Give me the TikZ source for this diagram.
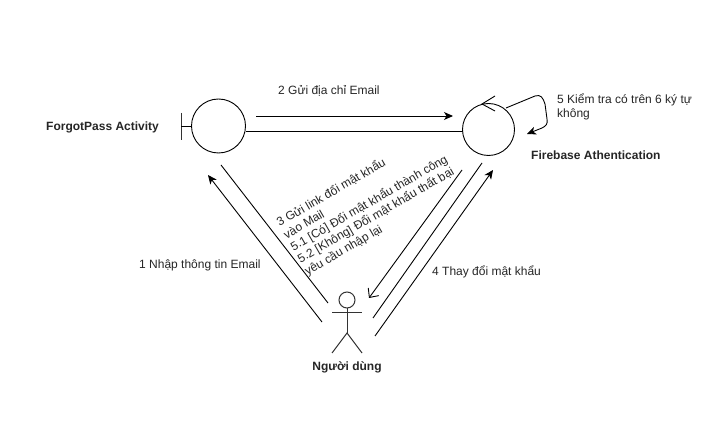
\documentclass[tikz,border=0pt]{standalone}
\usepackage{fontspec}
\setmainfont{Liberation Sans}
\usetikzlibrary{arrows.meta}
\tikzset{
  lbl/.style={font=\fontsize{12}{14}\selectfont,text=black!85,inner sep=0pt,align=left},
  blbl/.style={font=\fontsize{12}{14}\selectfont\bfseries,text=black!85,inner sep=0pt},
  obj/.style={circle,draw,line width=0.9pt,minimum size=54pt,inner sep=0pt},
  conn/.style={line width=0.9pt},
  arr/.style={conn,-{Stealth[length=9pt,width=8pt,inset=2.5pt]}},
  openarr/.style={conn,-{Straight Barb[length=7pt,width=13pt]}},
  fig/.style={line width=1pt,draw=black!80}
}
\begin{document}
\begin{tikzpicture}[x=1pt,y=-1pt]
\useasboundingbox (0,0) rectangle (723,430);
\fill[white] (0,0) rectangle (723,430);
% objects
\node[obj] (fp) at (218.5,126) {};
\node[obj,minimum size=52pt] (fb) at (488.5,129.5) {};
\coordinate (barTop) at (181,113);
\coordinate (barBot) at (181,140);
\coordinate (barMid) at (181,126);
\draw[fig] (barTop) -- (barBot);
\draw[conn] (barMid) -- (fp.west);
% control chevron
\coordinate (cTop) at (495,96);
\coordinate (cTip) at (482,104);
\coordinate (cBot) at (495,111);
\draw[conn] (cTop) -- (cTip) -- (cBot);
% actor
\node[circle,draw=black!80,line width=1pt,minimum size=16pt,inner sep=0pt] (head) at (347,300) {};
\coordinate (armL) at (332,313);
\coordinate (armR) at (362,313);
\coordinate (hip) at (347,333);
\coordinate (legL) at (332,353);
\coordinate (legR) at (362,353);
\draw[fig] (armL) -- (armR);
\draw[fig] (head.south) -- (hip);
\draw[fig] (legL) -- (hip) -- (legR);
% connectors
\coordinate (a1s) at (256,116);
\coordinate (a1e) at (453,116);
\draw[arr] (a1s) -- (a1e);
\coordinate (l1s) at (246,131);
\coordinate (l1e) at (463,131);
\draw[conn] (l1s) -- (l1e);
\coordinate (a2s) at (322,322);
\coordinate (a2e) at (208,175);
\draw[arr] (a2s) -- (a2e);
\coordinate (l2s) at (221,165);
\coordinate (l2e) at (328,303);
\draw[conn] (l2s) -- (l2e);
\coordinate (a3s) at (462,170);
\coordinate (a3e) at (369,298);
\draw[openarr] (a3s) -- (a3e);
\coordinate (l3s) at (373,318);
\coordinate (l3e) at (482,163);
\draw[conn] (l3s) -- (l3e);
\coordinate (a4s) at (375,336);
\coordinate (a4e) at (493,170);
\draw[arr] (a4s) -- (a4e);
% self loop
\coordinate (ls) at (506,108);
\coordinate (lc) at (535,96);
\coordinate (le) at (527,134);
\draw[arr] (ls) -- (lc) .. controls (541,94) and (543,98) .. (545,104) -- (547,119) .. controls (548,124) and (546,126) .. (542,128) -- (le);
% labels
\node[blbl,anchor=west] (tfp) at (46,127.5) {ForgotPass Activity};
\node[blbl,anchor=west] (tfb) at (531,155.5) {Firebase Athentication};
\node[blbl,anchor=center] (tnd) at (347,367.5) {Người dùng};
\node[lbl,anchor=west] (t2) at (278,91) {2 Gửi địa chỉ Email};
\node[lbl,anchor=north west] (t5) at (557,94) {5 Kiểm tra có trên 6 ký tự\\không};
\node[lbl,anchor=west] (t1) at (139,265.5) {1 Nhập thông tin Email};
\node[lbl,anchor=west] (t4) at (432,272) {4 Thay đổi mật khẩu};
\node[lbl,rotate=30,anchor=north west] (t3) at (274.5,218.5) {3 Gửi link đổi mật khẩu\\vào Mail\\5.1 [Có] Đổi mật khẩu thành công\\5.2 [Không] Đổi mật khẩu thất bại\\yêu cầu nhập lại};
\end{tikzpicture}
\end{document}
